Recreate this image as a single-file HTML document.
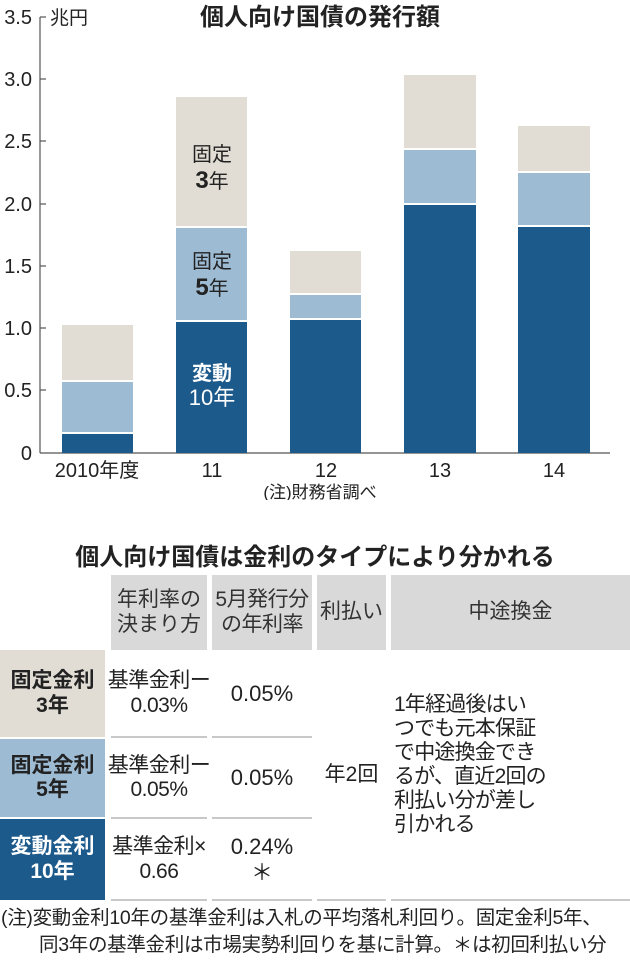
<!DOCTYPE html>
<html><head><meta charset="utf-8"><style>
body{margin:0;background:#fff;width:630px;height:961px;overflow:hidden;font-family:"Liberation Sans","Noto Sans CJK JP",sans-serif;color:#222}
.a{position:absolute}
.c{position:absolute;display:flex;align-items:center;justify-content:center;text-align:center;line-height:1.15;white-space:nowrap}
.h{background:#d9d9d9;font-size:21px;color:#333}
.ln{position:absolute;height:2px;background:#c8c8c8}
</style></head><body>
<svg class="a" style="left:0;top:0" width="630" height="500" font-family="Liberation Sans, Noto Sans CJK JP, sans-serif">
<g fill="#222" font-size="20" text-anchor="end">
<text x="32" y="24">3.5</text><text x="32" y="86">3.0</text><text x="32" y="148">2.5</text><text x="32" y="211">2.0</text><text x="32" y="273">1.5</text><text x="32" y="335">1.0</text><text x="32" y="397">0.5</text><text x="32" y="460">0</text>
</g>
<g stroke="#555" stroke-width="1.2"><line x1="40" y1="17" x2="40" y2="453"/><line x1="40" y1="453" x2="610" y2="453"/>
<line x1="40" y1="17" x2="46" y2="17"/><line x1="40" y1="79" x2="46" y2="79"/><line x1="40" y1="141" x2="46" y2="141"/><line x1="40" y1="204" x2="46" y2="204"/><line x1="40" y1="266" x2="46" y2="266"/><line x1="40" y1="328" x2="46" y2="328"/><line x1="40" y1="390" x2="46" y2="390"/></g>
<text x="50" y="24" font-size="19" fill="#222">兆円</text>
<text x="320" y="25" font-size="24" font-weight="bold" text-anchor="middle" fill="#222">個人向け国債の発行額</text>
<g>
<rect x="62" y="325" width="71" height="55" fill="#e1ddd5"/><rect x="62" y="382" width="71" height="50" fill="#9dbbd3"/><rect x="62" y="434" width="71" height="19" fill="#1d5a8c"/>
<rect x="176" y="97" width="71" height="129" fill="#e1ddd5"/><rect x="176" y="228" width="71" height="92" fill="#9dbbd3"/><rect x="176" y="322" width="71" height="131" fill="#1d5a8c"/>
<rect x="290" y="251" width="71" height="42" fill="#e1ddd5"/><rect x="290" y="295" width="71" height="23" fill="#9dbbd3"/><rect x="290" y="320" width="71" height="133" fill="#1d5a8c"/>
<rect x="404" y="75" width="72" height="73" fill="#e1ddd5"/><rect x="404" y="150" width="72" height="53" fill="#9dbbd3"/><rect x="404" y="205" width="72" height="248" fill="#1d5a8c"/>
<rect x="518" y="126" width="72" height="45" fill="#e1ddd5"/><rect x="518" y="173" width="72" height="52" fill="#9dbbd3"/><rect x="518" y="227" width="72" height="226" fill="#1d5a8c"/>
</g>
<g text-anchor="middle" font-size="20" fill="#222">
<text x="212" y="161">固定</text><text x="212" y="188"><tspan font-weight="bold" font-size="24">3</tspan>年</text>
<text x="212" y="268">固定</text><text x="212" y="295"><tspan font-weight="bold" font-size="24">5</tspan>年</text>
<text x="212" y="380" fill="#fff" font-weight="bold">変動</text><text x="212" y="405" fill="#fff" font-size="22">10年</text>
</g>
<g text-anchor="middle" font-size="20" fill="#222">
<text x="97" y="477">2010年度</text><text x="212" y="477">11</text><text x="326" y="477">12</text><text x="440" y="477">13</text><text x="554" y="477">14</text>
</g>
<text x="320" y="498" font-size="17" text-anchor="middle" fill="#222">(注)財務省調べ</text>
</svg>
<div class="a" style="left:0;top:537px;width:630px;text-align:center;font-size:24px;font-weight:bold">個人向け国債は金利のタイプにより分かれる</div>
<div class="c h" style="left:111px;top:575px;width:96px;height:75px">年利率の<br>決まり方</div>
<div class="c h" style="left:212px;top:575px;width:100px;height:75px;letter-spacing:-0.5px">5月発行分<br>の年利率</div>
<div class="c h" style="left:317px;top:575px;width:69px;height:75px">利払い</div>
<div class="c h" style="left:391px;top:575px;width:239px;height:75px">中途換金</div>
<div class="c" style="left:0;top:650px;width:105px;height:87px;background:#e1ddd5;font-weight:bold;font-size:21px">固定金利<br>3年</div>
<div class="c" style="left:0;top:739px;width:105px;height:78px;background:#9dbbd3;font-weight:bold;font-size:21px">固定金利<br>5年</div>
<div class="c" style="left:0;top:819px;width:105px;height:81px;background:#1d5a8c;color:#fff;font-weight:bold;font-size:21px">変動金利<br>10年</div>
<div class="c" style="left:108px;top:650px;width:102px;height:87px;font-size:21px;letter-spacing:-0.5px">基準金利ー<br>0.03%</div>
<div class="c" style="left:108px;top:739px;width:102px;height:78px;font-size:21px;letter-spacing:-0.5px">基準金利ー<br>0.05%</div>
<div class="c" style="left:108px;top:819px;width:102px;height:81px;font-size:21px;letter-spacing:-0.5px">基準金利×<br>0.66</div>
<div class="c" style="left:212px;top:650px;width:100px;height:87px;font-size:22px">0.05%</div>
<div class="c" style="left:212px;top:739px;width:100px;height:78px;font-size:22px">0.05%</div>
<div class="c" style="left:212px;top:819px;width:100px;height:81px;font-size:22px">0.24%<br>＊</div>
<div class="c" style="left:317px;top:650px;width:69px;height:250px;font-size:21px">年2回</div>
<div class="a" style="left:394px;top:693px;width:236px;font-size:21px;line-height:24px;white-space:nowrap;letter-spacing:-0.8px">1年経過後はい<br>つでも元本保証<br>で中途換金でき<br>るが、直近2回の<br>利払い分が差し<br>引かれる</div>
<div class="ln" style="left:111px;top:736px;width:96px"></div><div class="ln" style="left:212px;top:736px;width:100px"></div>
<div class="ln" style="left:111px;top:817px;width:96px"></div><div class="ln" style="left:212px;top:817px;width:100px"></div>
<div class="ln" style="left:111px;top:899px;width:96px"></div><div class="ln" style="left:212px;top:899px;width:100px"></div><div class="ln" style="left:317px;top:899px;width:69px"></div><div class="ln" style="left:391px;top:899px;width:239px"></div>
<div class="a" style="left:1px;top:905px;font-size:19.5px;line-height:27px;white-space:nowrap;letter-spacing:-0.3px">(注)変動金利10年の基準金利は入札の平均落札利回り。固定金利5年、<br><span style="padding-left:38px">同3年の基準金利は市場実勢利回りを基に計算。＊は初回利払い分</span></div>
</body></html>
